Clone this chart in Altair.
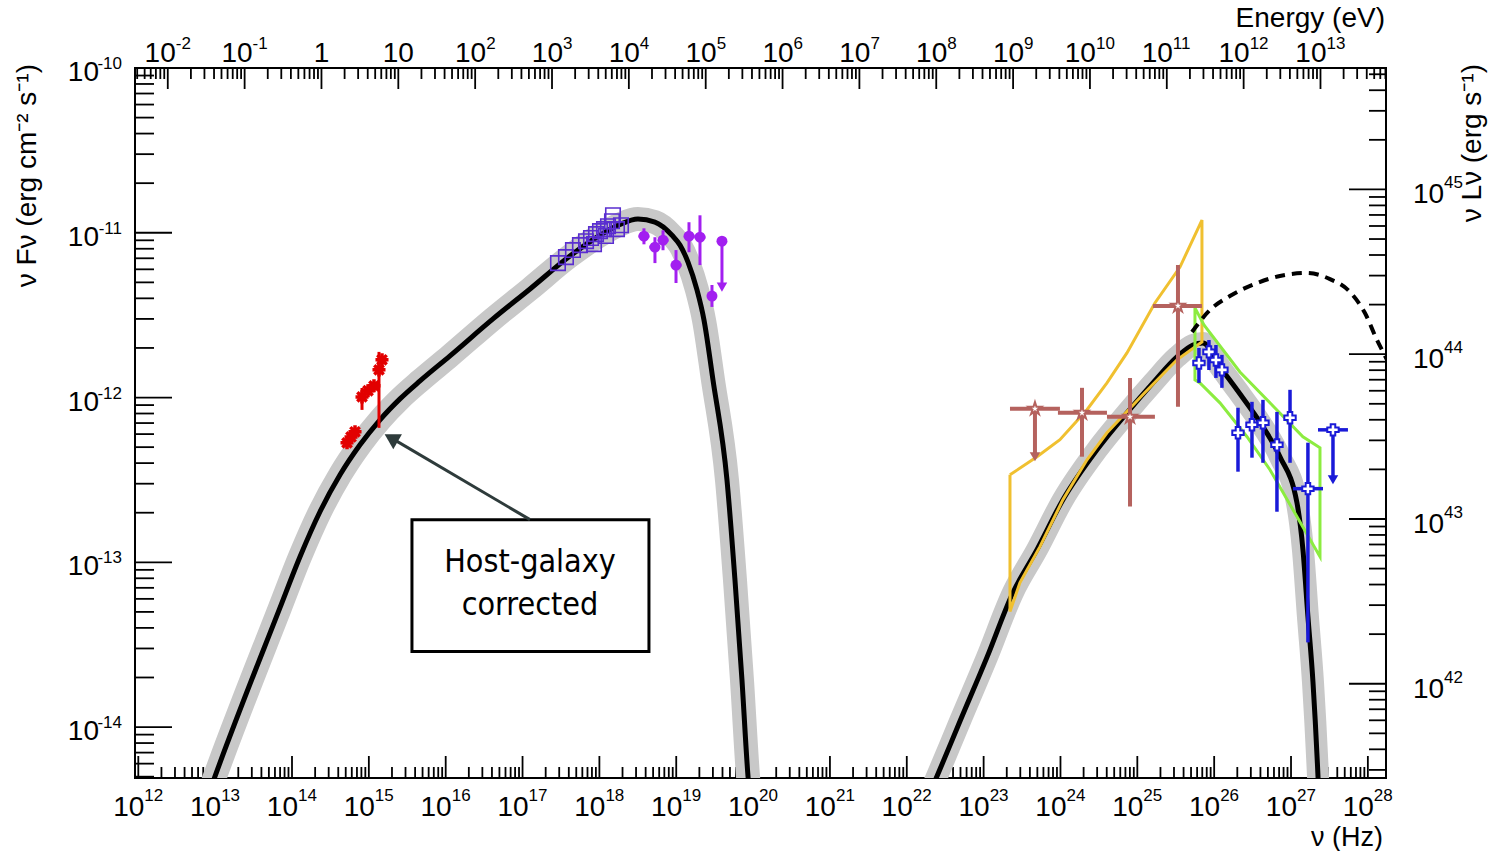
import altair as alt
import numpy as np
import pandas as pd

# ------------------------------------------------------------------
# Values (log10 of nu [Hz] and nu F_nu [erg cm^-2 s^-1])
# ------------------------------------------------------------------
sync_lognu = [12.92, 12.998, 13.844, 14.104, 14.364, 14.625, 14.885, 15.145, 15.405, 15.666,
              16.056, 16.615, 17.097, 17.617, 18.008, 18.268, 18.502, 18.723, 18.945, 19.049,
              19.153, 19.27, 19.361, 19.478, 19.66, 19.764, 19.855, 19.934, 19.96]
sync_logf = [-14.40, -14.299, -13.275, -12.966, -12.693, -12.469, -12.287, -12.135, -12.008, -11.899,
             -11.747, -11.523, -11.341, -11.141, -11.015, -10.949, -10.917, -10.935, -11.015, -11.075,
             -11.178, -11.347, -11.529, -11.893, -12.499, -13.105, -13.711, -14.299, -14.44]

ic_lognu = [22.30, 22.393, 22.692, 23.043, 23.382, 23.694, 24.032, 24.475, 24.865, 25.203,
            25.516, 25.724, 25.854, 26.075, 26.296, 26.635, 26.856, 27.077, 27.155, 27.220,
            27.286, 27.351, 27.364]
ic_logf = [-14.40, -14.299, -13.965, -13.577, -13.183, -12.923, -12.620, -12.317, -12.093, -11.911,
           -11.753, -11.681, -11.669, -11.814, -11.953, -12.178, -12.359, -12.638, -12.923, -13.329,
           -13.729, -14.299, -14.44]

dash_lognu = [25.711, 25.945, 26.205, 26.557, 26.856, 27.207, 27.507, 27.767, 27.962, 28.118, 28.236, 28.31]
dash_logf = [-11.602, -11.469, -11.384, -11.305, -11.262, -11.244, -11.281, -11.359, -11.487, -11.650, -11.759, -11.83]

# Fermi-LAT butterfly (yellow) and H.E.S.S. butterfly (green), closed outlines
lat_bt_lognu = [23.343, 23.694, 23.993, 24.345, 24.605, 24.865, 25.229, 25.555, 25.841, 25.841,
                25.516, 25.0955, 24.605, 24.345, 24.032, 23.733, 23.473, 23.343, 23.343]
lat_bt_logf = [-12.469, -12.359, -12.256, -12.074, -11.911, -11.729, -11.426, -11.208, -10.923, -11.663,
               -11.771, -11.971, -12.214, -12.378, -12.620, -12.905, -13.123, -13.299, -12.469]
hess_bt_lognu = [25.750, 25.867, 26.335, 26.791, 27.155, 27.377, 27.377, 27.155, 26.726, 26.427,
                 26.075, 25.815, 25.750, 25.750]
hess_bt_logf = [-11.456, -11.559, -11.845, -12.063, -12.238, -12.305, -12.966, -12.786, -12.438, -12.238,
                -12.032, -11.911, -11.893, -11.456]

# optical (host-galaxy corrected), red
red_lognu = [14.716, 14.768, 14.820, 14.911, 14.989, 15.067, 15.132, 15.171]
red_logf = [-12.275, -12.239, -12.208, -11.996, -11.959, -11.929, -11.832, -11.771]
red_lo = [-12.30, -12.26, -12.23, -12.075, -11.98, -11.95, -12.184, -11.79]
red_hi = [-12.25, -12.22, -12.19, -11.942, -11.94, -11.91, -11.723, -11.75]

# soft X-ray, open squares
sq_lognu = [17.461, 17.565, 17.656, 17.747, 17.826, 17.891, 17.956, 18.008, 18.060, 18.112,
            18.164, 18.177, 18.229, 18.281, 18.086, 17.930]
sq_logf = [-11.184, -11.148, -11.105, -11.075, -11.051, -11.032, -11.008, -10.990, -10.978, -10.960,
           -10.930, -10.894, -10.978, -10.954, -11.020, -11.069]

# hard X-ray, filled circles
pc_lognu = [18.580, 18.723, 18.828, 18.997, 19.166, 19.309, 19.465]
pc_logf = [-11.021, -11.087, -11.045, -11.196, -11.021, -11.027, -11.384]
pc_lo = [-11.070, -11.184, -11.106, -11.305, -11.118, -11.196, -11.450]
pc_hi = [-10.973, -11.027, -10.985, -11.105, -10.936, -10.894, -11.317]
pc_xlo = [18.51, 18.65, 18.76, 18.93, 19.10, 19.24, 19.40]
pc_xhi = [18.65, 18.79, 18.90, 19.07, 19.24, 19.38, 19.53]
pc_ul_lognu = [19.595]
pc_ul_logf = [-11.051]
pc_ul_end = [-11.330]

# Fermi-LAT, open stars
fermi_lognu = [24.280, 24.905, 25.529]
fermi_logf = [-12.093, -12.117, -11.444]
fermi_xlo = [23.967, 24.605, 25.203]
fermi_xhi = [24.605, 25.229, 25.841]
fermi_lo = [-12.359, -12.662, -12.056]
fermi_hi = [-11.941, -11.881, -11.196]
fermi_ul_lognu = [23.668]
fermi_ul_logf = [-12.068]
fermi_ul_xlo = [23.343]
fermi_ul_xhi = [23.993]
fermi_ul_end = [-12.359]

# H.E.S.S., open crosses
hess_lognu = [25.802, 25.932, 26.023, 26.101, 26.310, 26.492, 26.635, 26.817, 26.987, 27.220]
hess_logf = [-11.790, -11.723, -11.772, -11.832, -12.214, -12.165, -12.153, -12.287, -12.123, -12.553]
hess_lo = [-11.911, -11.833, -11.881, -11.941, -12.450, -12.365, -12.396, -12.693, -12.396, -13.486]
hess_hi = [-11.699, -11.651, -11.681, -11.741, -12.062, -12.026, -12.014, -12.087, -11.953, -12.274]
hess_xlo = [25.75, 25.88, 25.97, 26.05, 26.26, 26.44, 26.58, 26.77, 26.94, 27.025]
hess_xhi = [25.85, 25.98, 26.07, 26.15, 26.36, 26.54, 26.69, 26.87, 27.04, 27.416]
hess_ul_lognu = [27.546]
hess_ul_logf = [-12.196]
hess_ul_xlo = [27.351]
hess_ul_xhi = [27.741]
hess_ul_end = [-12.499]

# annotation (data coordinates)
box_lognu = [15.561, 18.645]
box_logf = [-12.741, -13.541]
note_lines = ["Host-galaxy", "corrected"]
note_logf = [-12.996, -13.257]
note_lognu = 17.097
arrow_from = (17.097, -12.741)
arrow_to = (15.29, -12.245)

# axes
x_logdomain = [11.957, 28.236]
y_logdomain = [-14.309, -10.0]
lum_offset = 55.737          # log10(nuL_nu / nuF_nu)
h_ev = 4.135667e-15          # eV s
bottom_exps = list(range(12, 29))
top_exps = list(range(-2, 14))
left_exps = list(range(-14, -9))
right_exps = list(range(42, 46))

# ------------------------------------------------------------------
W, H = 1251, 710
FONT = "Liberation Sans"
COND = "DejaVu Sans Condensed"

XS = alt.Scale(type="log", domain=[10 ** x_logdomain[0], 10 ** x_logdomain[1]], nice=False)
YS = alt.Scale(type="log", domain=[10 ** y_logdomain[0], 10 ** y_logdomain[1]], nice=False)


def X(f="x"):
    return alt.X(f"{f}:Q", scale=XS, axis=None)


def Y(f="y"):
    return alt.Y(f"{f}:Q", scale=YS, axis=None)


def p10(a):
    return 10 ** np.asarray(a, dtype=float)


def curve_df(lx, ly):
    return pd.DataFrame({"x": p10(lx), "y": p10(ly), "i": range(len(lx))})


layers = []

# ------------------------------------------------------------------
# ticks (drawn inward, ROOT style)
def in_dom(v, lo, hi):
    return [t for t in v if lo <= t <= hi]


xlo, xhi = 10 ** x_logdomain[0], 10 ** x_logdomain[1]
ylo, yhi = 10 ** y_logdomain[0], 10 ** y_logdomain[1]

bot_major = in_dom([10.0 ** n for n in range(11, 30)], xlo, xhi)
bot_minor = in_dom([m * 10.0 ** n for n in range(11, 30) for m in range(2, 10)], xlo, xhi)
top_major = in_dom([10.0 ** n / h_ev for n in range(-4, 15)], xlo, xhi)
top_minor = in_dom([m * 10.0 ** n / h_ev for n in range(-4, 15) for m in range(2, 10)], xlo, xhi)
left_major = in_dom([10.0 ** n for n in range(-16, -8)], ylo, yhi)
left_minor = in_dom([m * 10.0 ** n for n in range(-16, -8) for m in range(2, 10)], ylo, yhi)
right_major = in_dom([10.0 ** (n - lum_offset) for n in range(40, 47)], ylo, yhi)
right_minor = in_dom([m * 10.0 ** (n - lum_offset) for n in range(40, 47) for m in range(2, 10)], ylo, yhi)

TW = 1.8
for vals, ln in [(bot_major, 22), (bot_minor, 11)]:
    layers.append(alt.Chart(pd.DataFrame({"x": vals})).mark_rule(color="black", strokeWidth=TW).encode(
        x=X(), y=alt.value(H), y2=alt.value(H - ln)))
for vals, ln in [(top_major, 21), (top_minor, 11)]:
    layers.append(alt.Chart(pd.DataFrame({"x": vals})).mark_rule(color="black", strokeWidth=TW).encode(
        x=X(), y=alt.value(0), y2=alt.value(ln)))
for vals, ln in [(left_major, 37), (left_minor, 19)]:
    layers.append(alt.Chart(pd.DataFrame({"y": vals})).mark_rule(color="black", strokeWidth=TW).encode(
        y=Y(), x=alt.value(0), x2=alt.value(ln)))
for vals, ln in [(right_major, 37), (right_minor, 17)]:
    layers.append(alt.Chart(pd.DataFrame({"y": vals})).mark_rule(color="black", strokeWidth=TW).encode(
        y=Y(), x=alt.value(W), x2=alt.value(W - ln)))

# ------------------------------------------------------------------
# tick labels with superscript exponents
BF, EF = 28, 17


def lab(df, align, dx, yv=None, xv=None, dy=0, size=BF, field="t"):
    mk = alt.Chart(df).mark_text(font=FONT, fontSize=size, color="black", align=align,
                                 baseline="alphabetic", dx=dx, dy=dy)
    enc = {"text": f"{field}:N"}
    enc["x"] = alt.value(xv) if xv is not None else X()
    enc["y"] = alt.value(yv) if yv is not None else Y()
    return mk.encode(**enc)


bdf = pd.DataFrame({"x": [10.0 ** n for n in bottom_exps], "b": ["10"] * len(bottom_exps),
                    "e": [str(n) for n in bottom_exps]})
layers.append(lab(bdf, "right", 6, yv=H + 38, field="b"))
layers.append(lab(bdf, "left", 6, yv=H + 23, size=EF, field="e"))

groups = {"neg": [], "one": [], "two": [], "plain": []}
for n in top_exps:
    if n == 0:
        groups["plain"].append((n, "1"))
    elif n == 1:
        groups["plain"].append((n, "10"))
    elif n < 0:
        groups["neg"].append((n, str(n)))
    elif n < 10:
        groups["one"].append((n, str(n)))
    else:
        groups["two"].append((n, str(n)))
for g, dx in [("neg", 8), ("one", 11), ("two", 6)]:
    d = pd.DataFrame({"x": [10.0 ** n / h_ev for n, _ in groups[g]], "b": ["10"] * len(groups[g]),
                      "e": [s for _, s in groups[g]]})
    layers.append(lab(d, "right", dx, yv=-6, field="b"))
    layers.append(lab(d, "left", dx, yv=-19, size=EF, field="e"))
d = pd.DataFrame({"x": [10.0 ** n / h_ev for n, _ in groups["plain"]], "t": [s for _, s in groups["plain"]]})
layers.append(lab(d, "center", 0, yv=-6, field="t"))

ldf = pd.DataFrame({"y": [10.0 ** n for n in left_exps], "b": ["10"] * len(left_exps),
                    "e": [str(n) for n in left_exps]})
layers.append(lab(ldf, "right", 0, xv=-36, dy=13, field="b"))
layers.append(lab(ldf, "right", 0, xv=-13, dy=1, size=EF, field="e"))

rdf = pd.DataFrame({"y": [10.0 ** (n - lum_offset) for n in right_exps], "b": ["10"] * len(right_exps),
                    "e": [str(n) for n in right_exps]})
layers.append(lab(rdf, "left", 0, xv=W + 27, dy=14, field="b"))
layers.append(lab(rdf, "left", 0, xv=W + 58, dy=-1, size=EF, field="e"))


def title(t, x, y, align="right", angle=0, size=28):
    return alt.Chart(pd.DataFrame({"t": [t]})).mark_text(
        font=FONT, fontSize=size, color="black", align=align, baseline="alphabetic", angle=angle
    ).encode(x=alt.value(x), y=alt.value(y), text="t:N")


layers.append(title("Energy (eV)", W - 1, -41))
layers.append(title("ν (Hz)", W - 3, H + 68, size=27))
layers.append(title("ν Fν (erg cm⁻² s⁻¹)", -99, -4, angle=270))
layers.append(title("ν Lν (erg s⁻¹)", W + 95, -4, angle=270))

# ------------------------------------------------------------------
# gray bands + black model curves
for lx, ly, w in [(sync_lognu, sync_logf, 24), (ic_lognu, ic_logf, 22)]:
    layers.append(alt.Chart(curve_df(lx, ly)).mark_line(
        color="#c8c8c8", strokeWidth=w, clip=True, strokeJoin="round", interpolate="monotone"
    ).encode(x=X(), y=Y(), order="i:Q"))
for lx, ly in [(sync_lognu, sync_logf), (ic_lognu, ic_logf)]:
    layers.append(alt.Chart(curve_df(lx, ly)).mark_line(
        color="black", strokeWidth=5, clip=True, strokeJoin="round", interpolate="monotone"
    ).encode(x=X(), y=Y(), order="i:Q"))

# butterflies
layers.append(alt.Chart(curve_df(lat_bt_lognu, lat_bt_logf)).mark_line(
    color="#f0c030", strokeWidth=3, clip=True).encode(x=X(), y=Y(), order="i:Q"))
layers.append(alt.Chart(curve_df(hess_bt_lognu, hess_bt_logf)).mark_line(
    color="#8cec40", strokeWidth=3, clip=True).encode(x=X(), y=Y(), order="i:Q"))

# dashed curve
layers.append(alt.Chart(curve_df(dash_lognu, dash_logf)).mark_line(
    color="black", strokeWidth=4, strokeDash=[10, 7], clip=True, interpolate="monotone"
).encode(x=X(), y=Y(), order="i:Q"))

# annotation box, text, arrow
box_df = pd.DataFrame({"x": [10 ** box_lognu[0]], "x2": [10 ** box_lognu[1]],
                       "y": [10 ** box_logf[0]], "y2": [10 ** box_logf[1]]})
layers.append(alt.Chart(box_df).mark_rect(fill="white", stroke="black", strokeWidth=3).encode(
    x=X(), x2="x2:Q", y=Y(), y2="y2:Q"))
note_df = pd.DataFrame({"x": [10 ** note_lognu] * 2, "y": p10(note_logf), "t": note_lines})
layers.append(alt.Chart(note_df).mark_text(font=COND, fontSize=32, color="black",
                                           align="center", baseline="middle").encode(
    x=X(), y=Y(), text="t:N"))
arr_df = pd.DataFrame({"x": [10 ** arrow_from[0]], "x2": [10 ** arrow_to[0]],
                       "y": [10 ** arrow_from[1]], "y2": [10 ** arrow_to[1]]})
layers.append(alt.Chart(arr_df).mark_rule(color="#2e3b3b", strokeWidth=3).encode(
    x=X(), x2="x2:Q", y=Y(), y2="y2:Q"))
layers.append(alt.Chart(pd.DataFrame({"x": [10 ** arrow_to[0]], "y": [10 ** arrow_to[1]]}))
              .mark_point(shape="triangle-up", filled=True, size=300, angle=300, color="#2e3b3b",
                          opacity=1).encode(x=X(), y=Y()))


def err_layers(df, color, width, xerr=True):
    out = [alt.Chart(df).mark_rule(color=color, strokeWidth=width).encode(
        x=X(), y=Y("lo"), y2="hi:Q")]
    if xerr:
        out.append(alt.Chart(df).mark_rule(color=color, strokeWidth=width).encode(
            x=X("xlo"), x2="xhi:Q", y=Y()))
    return out


def ul_layers(lx, ly, end, color, width, xlo=None, xhi=None):
    df = pd.DataFrame({"x": p10(lx), "y": p10(ly), "yend": p10(end)})
    out = [alt.Chart(df).mark_rule(color=color, strokeWidth=width).encode(x=X(), y=Y(), y2="yend:Q"),
           alt.Chart(df).mark_point(shape="triangle-down", filled=True, size=110, color=color,
                                    opacity=1).encode(x=X(), y=Y("yend"))]
    if xlo is not None:
        df2 = pd.DataFrame({"y": p10(ly), "xlo": p10(xlo), "xhi": p10(xhi)})
        out.append(alt.Chart(df2).mark_rule(color=color, strokeWidth=width).encode(
            x=X("xlo"), x2="xhi:Q", y=Y()))
    return out


def open_marker(lx, ly, shape, color, size, sw):
    df = pd.DataFrame({"x": p10(lx), "y": p10(ly)})
    return [alt.Chart(df).mark_point(shape=shape, filled=True, size=size, color="white",
                                     opacity=1).encode(x=X(), y=Y()),
            alt.Chart(df).mark_point(shape=shape, filled=False, size=size, color=color,
                                     strokeWidth=sw, opacity=1).encode(x=X(), y=Y())]


# red optical
RED = "#e20000"
red_df = pd.DataFrame({"x": p10(red_lognu), "y": p10(red_logf), "lo": p10(red_lo), "hi": p10(red_hi)})
layers += err_layers(red_df, RED, 3, xerr=False)
ASTER = "M-1,0L1,0M0,-1L0,1M-0.72,-0.72L0.72,0.72M-0.72,0.72L0.72,-0.72"
layers.append(alt.Chart(red_df).mark_point(shape=ASTER, filled=False, size=170, color=RED,
                                           strokeWidth=3.5, opacity=1).encode(x=X(), y=Y()))

# open squares
sq_df = pd.DataFrame({"x": p10(sq_lognu), "y": p10(sq_logf)})
layers.append(alt.Chart(sq_df).mark_point(shape="square", filled=False, size=210, color="#5a2ed0",
                                          strokeWidth=1.6, opacity=1).encode(x=X(), y=Y()))

# filled circles
PUR = "#a21ff0"
pc_df = pd.DataFrame({"x": p10(pc_lognu), "y": p10(pc_logf), "lo": p10(pc_lo), "hi": p10(pc_hi),
                      "xlo": p10(pc_xlo), "xhi": p10(pc_xhi)})
layers += err_layers(pc_df, PUR, 3)
layers += ul_layers(pc_ul_lognu, pc_ul_logf, pc_ul_end, PUR, 3)
layers.append(alt.Chart(pd.DataFrame({"x": p10(pc_lognu + pc_ul_lognu), "y": p10(pc_logf + pc_ul_logf)}))
              .mark_point(shape="circle", filled=True, size=120, color=PUR, opacity=1).encode(x=X(), y=Y()))

# Fermi
BRN = "#b5625e"
STAR = ("M0,-1L0.2234,-0.3074L0.9511,-0.309L0.3614,0.1174L0.5878,0.809L0,0.38L-0.5878,0.809"
        "L-0.3614,0.1174L-0.9511,-0.309L-0.2234,-0.3074Z")
f_df = pd.DataFrame({"x": p10(fermi_lognu), "y": p10(fermi_logf), "lo": p10(fermi_lo), "hi": p10(fermi_hi),
                     "xlo": p10(fermi_xlo), "xhi": p10(fermi_xhi)})
layers += err_layers(f_df, BRN, 4)
layers += ul_layers(fermi_ul_lognu, fermi_ul_logf, fermi_ul_end, BRN, 4, fermi_ul_xlo, fermi_ul_xhi)
layers += open_marker(fermi_lognu + fermi_ul_lognu, fermi_logf + fermi_ul_logf, STAR, BRN, 180, 2)

# H.E.S.S.
BLU = "#1a1ad8"
h_df = pd.DataFrame({"x": p10(hess_lognu), "y": p10(hess_logf), "lo": p10(hess_lo), "hi": p10(hess_hi),
                     "xlo": p10(hess_xlo), "xhi": p10(hess_xhi)})
layers += err_layers(h_df, BLU, 3.5)
layers += ul_layers(hess_ul_lognu, hess_ul_logf, hess_ul_end, BLU, 3.5, hess_ul_xlo, hess_ul_xhi)
layers += open_marker(hess_lognu + hess_ul_lognu, hess_logf + hess_ul_logf, "cross", BLU, 130, 2)

chart = alt.layer(*layers).properties(
    width=W, height=H,
    padding={"left": 135, "top": 68, "right": 1490 - 135 - W, "bottom": 851 - 68 - H},
    autosize=alt.AutoSizeParams(type="none"),
    background="white",
).configure_view(stroke="black", strokeWidth=2)

chart.save("out.html", embed_options={"renderer": "svg", "actions": False})
